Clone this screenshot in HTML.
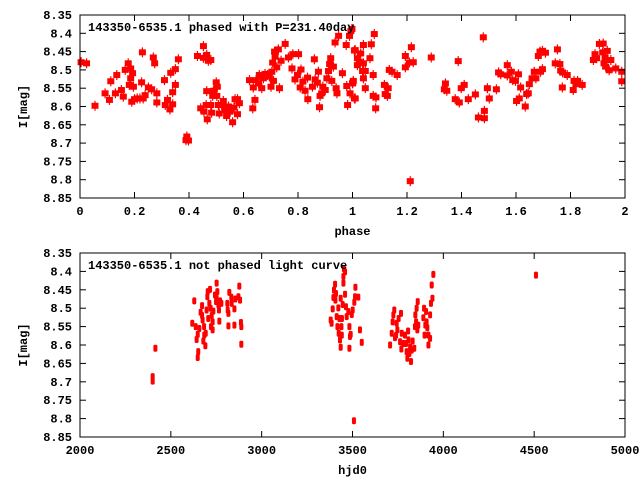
<!DOCTYPE html>
<html><head><meta charset="utf-8"><style>
body{margin:0;background:#fff;}
svg text{font-family:"Liberation Mono","DejaVu Sans Mono",monospace;font-size:12px;font-weight:bold;fill:#000;}
</style></head><body>
<svg id="chart" width="640" height="480" xmlns="http://www.w3.org/2000/svg">
<g id="top"></g>
<g id="bot"></g>
</svg>
<script>
const phaseTicks=[0,0.2,0.4,0.6,0.8,1,1.2,1.4,1.6,1.8,2];
const phaseTickLabels=["0","0.2","0.4","0.6","0.8","1","1.2","1.4","1.6","1.8","2"];
const magTicks=[8.35,8.4,8.45,8.5,8.55,8.6,8.65,8.7,8.75,8.8,8.85];
const magTickLabels=["8.35","8.4","8.45","8.5","8.55","8.6","8.65","8.7","8.75","8.8","8.85"];
const hjdTicks=[2000,2500,3000,3500,4000,4500,5000];
const hjdTickLabels=["2000","2500","3000","3500","4000","4500","5000"];
const phasedPhase=[0.004,0.024,0.055,0.092,0.108,0.113,0.13,0.135,0.152,0.159,0.166,0.177,0.181,0.186,0.186,0.19,0.193,0.196,0.2,0.21,0.22,0.226,0.229,0.232,0.239,0.251,0.263,0.269,0.274,0.282,0.282,0.31,0.313,0.321,0.33,0.333,0.34,0.34,0.35,0.35,0.361,0.389,0.398,0.392,0.431,0.453,0.453,0.465,0.471,0.48,0.443,0.455,0.463,0.467,0.465,0.48,0.483,0.487,0.49,0.5,0.502,0.504,0.508,0.511,0.52,0.526,0.532,0.538,0.545,0.551,0.56,0.565,0.569,0.578,0.585,0.578,0.622,0.634,0.636,0.642,0.646,0.655,0.658,0.667,0.673,0.679,0.688,0.695,0.701,0.704,0.71,0.707,0.714,0.716,0.722,0.728,0.732,0.738,0.753,0.765,0.778,0.781,0.789,0.802,0.798,0.808,0.811,0.818,0.826,0.835,0.836,0.853,0.86,0.863,0.871,0.875,0.879,0.881,0.887,0.891,0.9,0.906,0.912,0.916,0.92,0.924,0.93,0.936,0.94,0.943,0.949,0.963,0.977,0.979,0.982,0.989,0.991,0.998,1.001,1.007,1.007,
0.994,1.0,1.003,1.01,1.01,1.018,1.018,1.025,1.03,1.04,1.04,1.037,1.04,1.047,1.047,1.064,1.069,1.076,1.08,1.076,1.085,1.086,1.117,1.12,1.128,1.131,1.135,1.145,1.164,1.194,1.194,1.209,1.216,1.223,1.212,1.289,1.337,1.341,1.346,1.377,1.388,1.392,1.399,1.41,1.425,1.451,1.462,1.48,1.484,1.484,1.495,1.502,1.528,1.536,1.544,1.568,1.568,1.583,1.588,1.598,1.602,1.609,1.612,1.617,1.634,1.639,1.645,1.649,1.659,1.667,1.673,1.682,1.688,1.69,1.697,1.697,1.708,1.744,1.752,1.761,1.764,1.77,1.771,1.788,1.81,1.813,1.82,1.826,1.843,1.884,1.89,1.896,1.906,1.918,1.92,1.923,1.927,1.929,1.935,1.942,1.948,1.966,1.988,1.988];
const phasedMag=[8.479,8.482,8.598,8.564,8.582,8.531,8.564,8.514,8.555,8.573,8.5,8.482,8.541,8.496,8.523,8.587,8.509,8.546,8.58,8.578,8.578,8.534,8.452,8.578,8.569,8.548,8.553,8.466,8.482,8.564,8.589,8.528,8.596,8.582,8.608,8.508,8.561,8.594,8.498,8.541,8.471,8.692,8.693,8.682,8.462,8.435,8.467,8.459,8.475,8.473,8.605,8.614,8.596,8.635,8.558,8.596,8.617,8.571,8.557,8.534,8.571,8.546,8.596,8.619,8.596,8.585,8.61,8.626,8.6,8.614,8.643,8.603,8.58,8.621,8.591,8.58,8.528,8.605,8.548,8.582,8.528,8.537,8.514,8.55,8.523,8.511,8.514,8.518,8.546,8.505,8.53,8.48,8.45,8.464,8.493,8.444,8.55,8.475,8.429,8.466,8.496,8.457,8.526,8.457,8.514,8.548,8.499,8.532,8.557,8.521,8.58,8.546,8.471,8.526,8.535,8.505,8.602,8.571,8.564,8.546,8.555,8.523,8.503,8.484,8.468,8.53,8.491,8.425,8.55,8.564,8.407,8.509,8.432,8.544,8.596,8.407,8.564,8.388,8.535,8.447,8.578,
8.394,8.537,8.53,8.578,8.446,8.468,8.487,8.478,8.455,8.432,8.482,8.503,8.523,8.503,8.55,8.468,8.43,8.514,8.402,8.571,8.605,8.575,8.541,8.566,8.571,8.55,8.5,8.505,8.514,8.462,8.493,8.48,8.438,8.479,8.804,8.466,8.553,8.537,8.557,8.58,8.476,8.589,8.55,8.541,8.58,8.567,8.63,8.411,8.632,8.612,8.55,8.578,8.553,8.507,8.512,8.487,8.515,8.505,8.528,8.53,8.585,8.512,8.578,8.548,8.6,8.566,8.564,8.539,8.523,8.505,8.523,8.462,8.45,8.505,8.498,8.448,8.453,8.482,8.444,8.484,8.502,8.548,8.507,8.514,8.555,8.53,8.539,8.53,8.541,8.473,8.457,8.468,8.429,8.452,8.428,8.482,8.466,8.491,8.448,8.501,8.473,8.496,8.505,8.531];
const hjd=[2400,2400,2415,2629,2618,2637,2642,2648,2651,2648,2657,2664,2672,2672,2675,2679,2683,2684,2690,2692,2697,2701,2703,2706,2712,2716,2719,2721,2725,2730,2730,2734,2743,2749,2752,2752,2756,2762,2765,2771,2767,2778,2811,2813,2817,2817,2822,2833,2835,2850,2850,2855,2872,2877,2881,2886,2888,2888,
3380,3385,3391,3395,3398,3404,3406,3409,3413,3417,3422,3424,3428,3431,3435,3435,3439,3441,3442,3446,3450,3450,3453,3459,3459,3464,3468,3477,3483,3483,3486,3490,3496,3501,3508,3510,3514,3516,3532,3541,3551,
3707,3716,3721,3725,3730,3734,3740,3743,3747,3754,3762,3767,3769,3771,3780,3789,3795,3798,3802,3806,3808,3813,3817,3822,3826,3831,3840,3844,3846,3850,3853,3857,3859,3862,3890,3894,3897,3901,3905,3908,3912,3918,3918,3927,3927,3932,3936,3940,3945,4510];
const hjdMag=[8.686,8.698,8.609,8.48,8.541,8.55,8.585,8.571,8.618,8.634,8.555,8.511,8.493,8.52,8.532,8.589,8.55,8.573,8.602,8.568,8.505,8.469,8.455,8.528,8.487,8.449,8.5,8.55,8.52,8.537,8.559,8.508,8.464,8.482,8.432,8.473,8.455,8.491,8.505,8.48,8.535,8.487,8.487,8.505,8.514,8.548,8.457,8.47,8.487,8.502,8.546,8.475,8.469,8.44,8.478,8.539,8.55,8.598,
8.532,8.541,8.502,8.471,8.451,8.435,8.478,8.46,8.523,8.55,8.499,8.568,8.528,8.586,8.473,8.606,8.55,8.573,8.528,8.49,8.432,8.414,8.393,8.401,8.462,8.496,8.523,8.509,8.55,8.609,8.577,8.571,8.517,8.505,8.806,8.484,8.469,8.443,8.47,8.559,8.593,
8.6,8.568,8.537,8.518,8.505,8.58,8.573,8.541,8.559,8.528,8.591,8.514,8.611,8.568,8.596,8.573,8.596,8.618,8.636,8.562,8.586,8.623,8.605,8.645,8.614,8.589,8.609,8.55,8.518,8.537,8.5,8.559,8.482,8.546,8.526,8.5,8.573,8.546,8.509,8.537,8.553,8.573,8.6,8.582,8.518,8.487,8.437,8.473,8.408,8.41];

const NS='http://www.w3.org/2000/svg';
function mk(parent,tag,attrs){const e=document.createElementNS(NS,tag);for(const k in attrs)e.setAttribute(k,attrs[k]);parent.appendChild(e);return e;}
function panel(g,x0,x1,y0,y1,xmin,xmax,xt,xtl,title,xlabel,xs,ys,small){
  const sx=v=>x0+(v-xmin)/(xmax-xmin)*(x1-x0);
  const sy=v=>y0+(v-8.35)/(0.5)*(y1-y0);
  // points
  for(let i=0;i<xs.length;i++){
    const cx=sx(xs[i]),cy=sy(ys[i]);
    let p;
    if(small){p=mk(g,'rect',{x:cx-2,y:cy-3.5,width:4,height:7,rx:1.5,fill:'#ff0000'});}
    else{p=mk(g,'g',{});mk(p,'rect',{x:cx-3.5,y:cy-3,width:7,height:6,fill:'#ff0000'});mk(p,'line',{x1:cx,y1:cy-5,x2:cx,y2:cy+5,stroke:'#ff0000','stroke-width':1.2});}
    
    
  }
  // frame
  const f=mk(g,'rect',{x:x0,y:y0,width:x1-x0,height:y1-y0,fill:'none',stroke:'#000','stroke-width':1});
  
  
  for(let i=0;i<magTicks.length;i++){
    const y=sy(magTicks[i]);
    mk(g,'line',{x1:x0,y1:y,x2:x0+6,y2:y,stroke:'#000'});
    mk(g,'line',{x1:x1-6,y1:y,x2:x1,y2:y,stroke:'#000'});
    const t=mk(g,'text',{x:x0-8,y:y+4,'text-anchor':'end'});t.textContent=magTickLabels[i];
    
    
  }
  for(let i=0;i<xt.length;i++){
    const x=sx(xt[i]);
    mk(g,'line',{x1:x,y1:y1,x2:x,y2:y1-6,stroke:'#000'});
    mk(g,'line',{x1:x,y1:y0,x2:x,y2:y0+6,stroke:'#000'});
    const t=mk(g,'text',{x:x,y:y1+17,'text-anchor':'middle'});t.textContent=xtl[i];
    
    
  }
  const tt=mk(g,'text',{x:x0+8,y:y0+16});tt.textContent=title;
  
  
  const xl=mk(g,'text',{x:(x0+x1)/2,y:y1+37,'text-anchor':'middle'});xl.textContent=xlabel;
  
  
  const yl=mk(g,'text',{x:0,y:0,'text-anchor':'middle',transform:`translate(27,${(y0+y1)/2}) rotate(-90)`});yl.textContent='I[mag]';
  
  
}
panel(document.getElementById('top'),80,625,15,198,0,2,phaseTicks,phaseTickLabels,'143350-6535.1 phased with P=231.40day','phase',phasedPhase,phasedMag,false);
panel(document.getElementById('bot'),80,625,253,437,2000,5000,hjdTicks,hjdTickLabels,'143350-6535.1 not phased light curve','hjd0',hjd,hjdMag,true);
</script>
</body></html>
